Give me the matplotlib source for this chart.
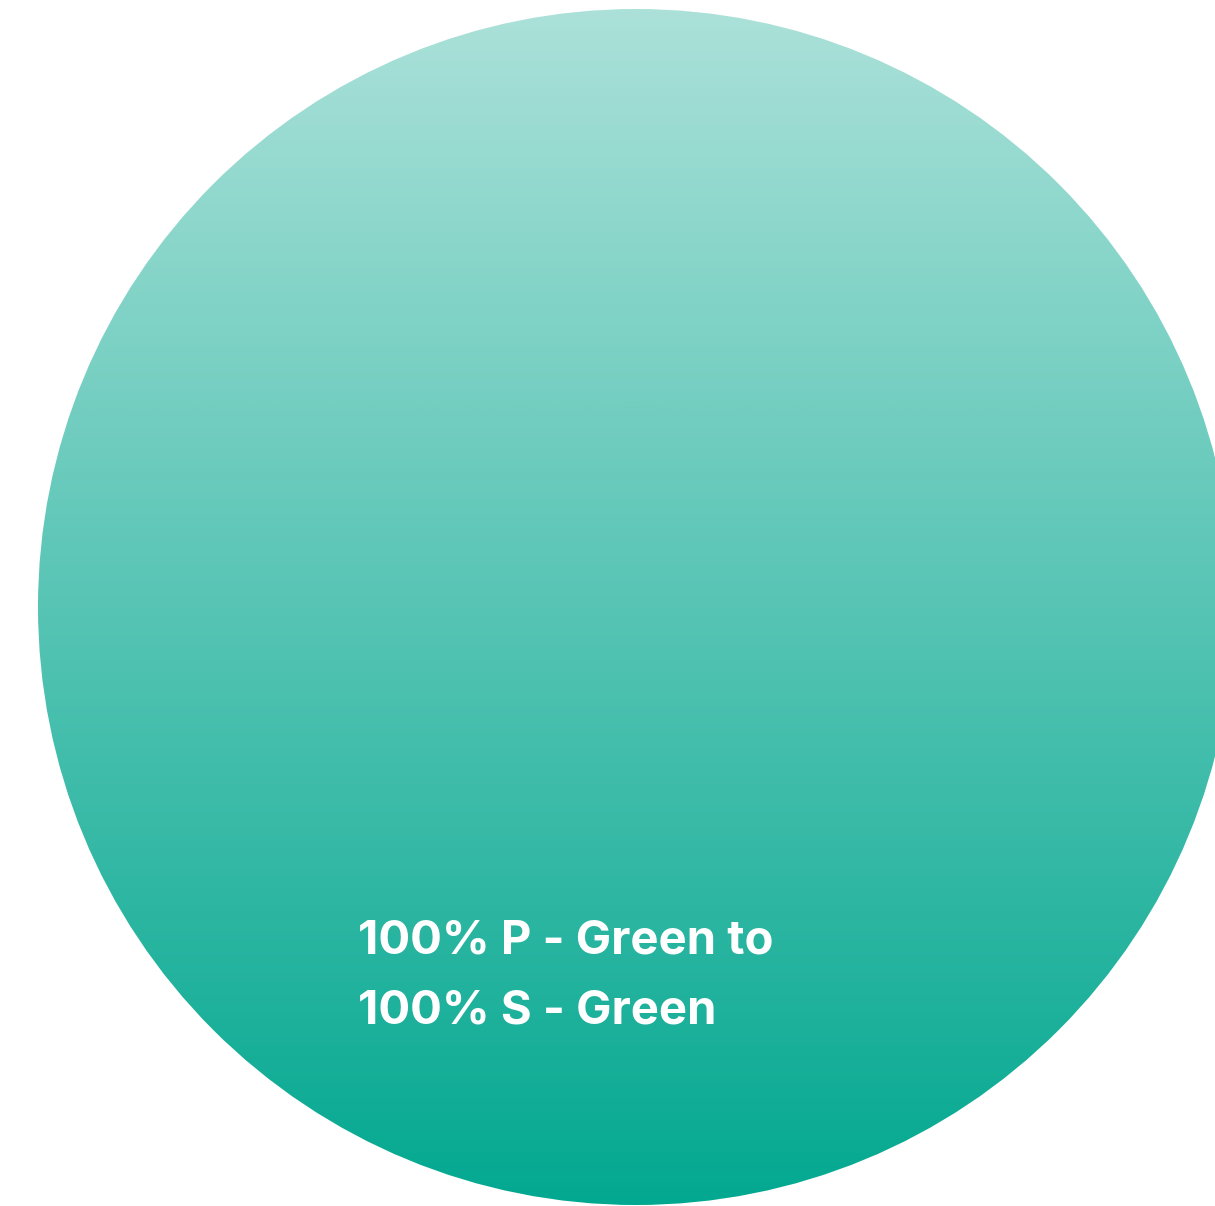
import numpy as np
import matplotlib
matplotlib.use('Agg')
from matplotlib import pyplot as plt
from matplotlib.patches import Circle
from matplotlib.colors import LinearSegmentedColormap

# gradient stops (top -> bottom) and label text
stop_colors = ['#ABE1D9', '#03A890']
label_lines = ['100% P - Green to', '100% S - Green']

W, H = 1215, 1206
fig = plt.figure(figsize=(W / 100, H / 100), dpi=100)
ax = fig.add_axes([0, 0, 1, 1])
ax.set_xlim(0, W)
ax.set_ylim(H, 0)
ax.axis('off')

cx, cy, r = 636, 607, 598
cmap = LinearSegmentedColormap.from_list('grad', stop_colors)
grad = np.linspace(0, 1, 512).reshape(-1, 1)
img = ax.imshow(grad, cmap=cmap, aspect='auto',
                extent=[cx - r, cx + r, cy + r, cy - r], interpolation='bilinear')
circ = Circle((cx, cy), r, transform=ax.transData, facecolor='none', edgecolor='none')
ax.add_patch(circ)
img.set_clip_path(circ)

for i, line in enumerate(label_lines):
    ax.text(358, 954 + i * 69, line, color='white', fontsize=34,
            fontweight='bold', family=['Inter', 'DejaVu Sans'],
            ha='left', va='baseline')

fig.savefig('out.png', dpi=100)
